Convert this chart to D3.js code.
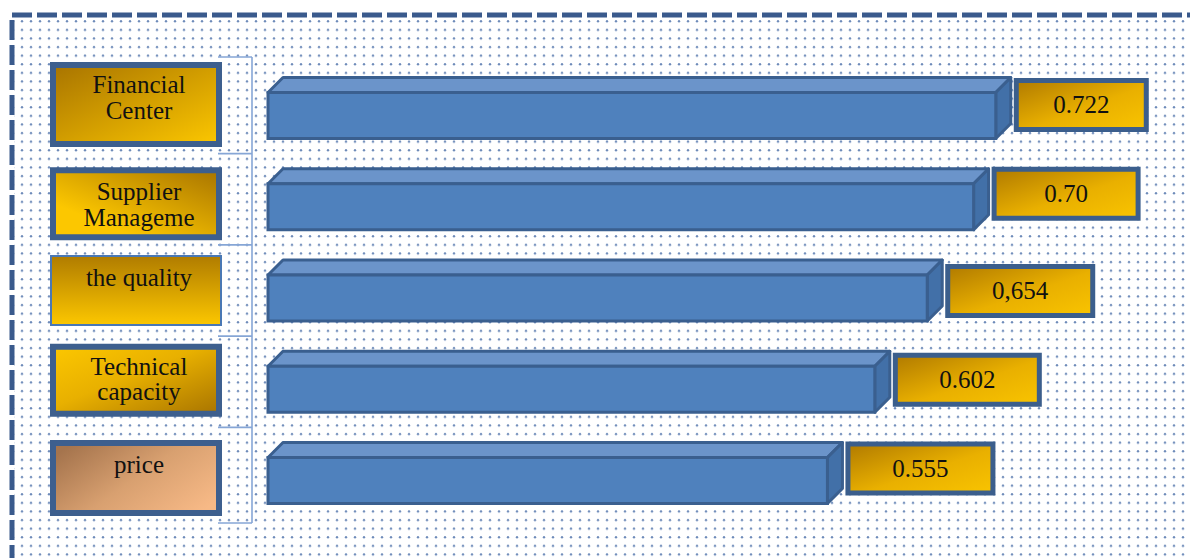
<!DOCTYPE html>
<html><head><meta charset="utf-8">
<script src="https://cdn.jsdelivr.net/npm/d3@7"></script>
<style>html,body{margin:0;padding:0;background:#fff;}svg{display:block;}</style>
</head><body>
<script>
// ---- data ----
const categories = ["Financial Center", "Supplier Manageme", "the quality", "Technical capacity", "price"];
const values = [0.722, 0.70, 0.654, 0.602, 0.555];
const valueLabels = ["0.722", "0.70", "0,654", "0.602", "0.555"];

// ---- layout / style (kept separate from data) ----
const W = 1190, H = 558;
const boxStyles = [
  {grad: "g1", stroke: 6, dy: -3.5, h: 85, top: false, tdy: 1.5},
  {grad: "g2", stroke: 6, dy: 4.5, h: 73, top: false, tdy: 9},
  {grad: "g3", stroke: 2, dy: 0, h: 71, top: true, tdy: 0},
  {grad: "g4", stroke: 6, dy: -1.5, h: 73, top: false, tdy: 7},
  {grad: "g5", stroke: 6, dy: 5, h: 76, top: false, tdy: 2}
];
const valueBoxW = [135, 149, 150, 149, 150];
const valueBoxDy = [-3, -5.5, 0.5, -2, -4.5];

const svg = d3.select("body").append("svg").attr("width", W).attr("height", H);
const defs = svg.append("defs");

function lg(id, x1, y1, x2, y2, stops) {
  const g = defs.append("linearGradient").attr("id", id)
    .attr("x1", x1).attr("y1", y1).attr("x2", x2).attr("y2", y2);
  stops.forEach(s => g.append("stop").attr("offset", s[0]).attr("stop-color", s[1]));
}
const dark = "#a87400", bright = "#fcc700";
lg("g1", "0", "0", "1", "1", [[0, dark], [1, bright]]);
lg("g2", "1", "0", "0", "1", [[0, dark], [0.75, bright], [1, bright]]);
lg("g3", "0", "0", "0", "1", [[0, "#b07c00"], [1, bright]]);
lg("g4", "0", "0", "1", "1", [[0, bright], [0.45, "#e8b000"], [1, "#a87400"]]);
lg("g5", "0", "0.2", "1", "0.8", [[0, "#a5744d"], [0.5, "#d8a070"], [1, "#f7b986"]]);
lg("gv", "0", "0", "1", "1", [[0, "#b07a00"], [0.55, "#e9b000"], [1, "#f9c400"]]);

const pat = defs.append("pattern").attr("id", "dots").attr("patternUnits", "userSpaceOnUse")
  .attr("width", 9).attr("height", 8.6);
pat.append("circle").attr("cx", 4).attr("cy", 4).attr("r", 1.2).attr("fill", "#4a6ea8").attr("opacity", 0.8);

// background + frame
svg.append("rect").attr("x", 14).attr("y", 17).attr("width", W).attr("height", H).attr("fill", "url(#dots)");
svg.append("rect").attr("x", 12).attr("y", 15).attr("width", 1400).attr("height", 800)
  .attr("fill", "none").attr("stroke", "#3a5a8c").attr("stroke-width", 5).attr("stroke-dasharray", "20 5");

// scales
const x = d3.scaleLinear().domain([0, 1]).range([268, 1276]);
const y = d3.scalePoint().domain(categories).range([108, 473]);
const depth = 15, frontH = 46, totalH = depth + frontH;

// bracket
const centers = categories.map(c => y(c));
const tickYs = [centers[0] - 51];
for (let i = 0; i < centers.length - 1; i++) tickYs.push((centers[i] + centers[i + 1]) / 2);
tickYs.push(centers[centers.length - 1] + 50);
const br = svg.append("g").attr("stroke", "#86a6d6").attr("stroke-width", 1.6).attr("fill", "none");
br.append("line").attr("x1", 252).attr("x2", 252).attr("y1", tickYs[0]).attr("y2", tickYs[tickYs.length - 1]);
br.selectAll("line.t").data(tickYs).join("line").attr("class", "t")
  .attr("x1", 218).attr("x2", 252).attr("y1", d => d).attr("y2", d => d);

// left label boxes (outer edges 50..222)
const boxX = 50, boxW = 172;
const FONT = "'Liberation Serif', serif";
const lab = svg.append("g").selectAll("g").data(categories).join("g");
lab.append("rect")
  .attr("x", (d, i) => boxX + boxStyles[i].stroke / 2)
  .attr("width", (d, i) => boxW - boxStyles[i].stroke)
  .attr("y", (d, i) => y(d) + boxStyles[i].dy - boxStyles[i].h / 2 + boxStyles[i].stroke / 2)
  .attr("height", (d, i) => boxStyles[i].h - boxStyles[i].stroke)
  .attr("fill", (d, i) => `url(#${boxStyles[i].grad})`)
  .attr("stroke", (d, i) => boxStyles[i].stroke > 3 ? "#3d5f8e" : "#4a78b4")
  .attr("stroke-width", (d, i) => boxStyles[i].stroke);
lab.each(function (d, i) {
  const g = d3.select(this);
  const t = g.append("text").attr("font-family", FONT).attr("font-size", 25)
    .attr("fill", "#111").attr("text-anchor", "middle");
  const words = d.split(" ");
  let lines = [], cur = "";
  const probe = g.append("text").attr("font-family", FONT).attr("font-size", 25);
  words.forEach(w => {
    const test = cur ? cur + " " + w : w;
    probe.text(test);
    if (probe.node().getComputedTextLength() > boxW - 40 && cur) { lines.push(cur); cur = w; } else cur = test;
  });
  lines.push(cur);
  probe.remove();
  const st = boxStyles[i];
  const cy = y(d) + st.dy;
  const lh = 25.5;
  let base;
  if (st.top) base = cy - st.h / 2 + 31;
  else base = cy - (lines.length - 1) * lh / 2 + st.tdy - (lines.length === 1 ? 7 : 0);
  lines.forEach((l, k) => t.append("tspan").attr("x", boxX + boxW / 2 + 3).attr("y", base + k * lh).text(l));
});

// 3D bars
const bars = svg.append("g").selectAll("g").data(values).join("g");
const x0 = x(0);
bars.each(function (v, i) {
  const g = d3.select(this);
  const top = y(categories[i]) - totalH / 2;
  const fy = top + depth, by = top + totalH, xr = x(v);
  const stroke = "#3a5f8f";
  g.append("path").attr("d", `M${x0},${fy} L${x0 + depth},${top} L${xr + depth},${top} L${xr},${fy} Z`)
    .attr("fill", "#6b94ca").attr("stroke", stroke).attr("stroke-width", 3).attr("stroke-linejoin", "round");
  g.append("path").attr("d", `M${xr},${fy} L${xr + depth},${top} L${xr + depth},${by - depth} L${xr},${by} Z`)
    .attr("fill", "#4270a8").attr("stroke", stroke).attr("stroke-width", 3).attr("stroke-linejoin", "round");
  g.append("rect").attr("x", x0).attr("y", fy).attr("width", xr - x0).attr("height", frontH)
    .attr("fill", "#4f81bd").attr("stroke", stroke).attr("stroke-width", 3);
  // value label box (outer edges)
  const bx = xr + depth + 3, bw = valueBoxW[i], bh = 54;
  const cy = y(categories[i]) + valueBoxDy[i];
  g.append("rect").attr("x", bx + 2.5).attr("y", cy - bh / 2 + 2.5).attr("width", bw - 5).attr("height", bh - 5)
    .attr("fill", "url(#gv)").attr("stroke", "#3b5e8c").attr("stroke-width", 5);
  g.append("text").attr("x", bx + bw / 2).attr("y", cy + 8)
    .attr("text-anchor", "middle").attr("font-family", FONT).attr("font-size", 25)
    .attr("fill", "#111").text(valueLabels[i]);
});
</script>
</body></html>
